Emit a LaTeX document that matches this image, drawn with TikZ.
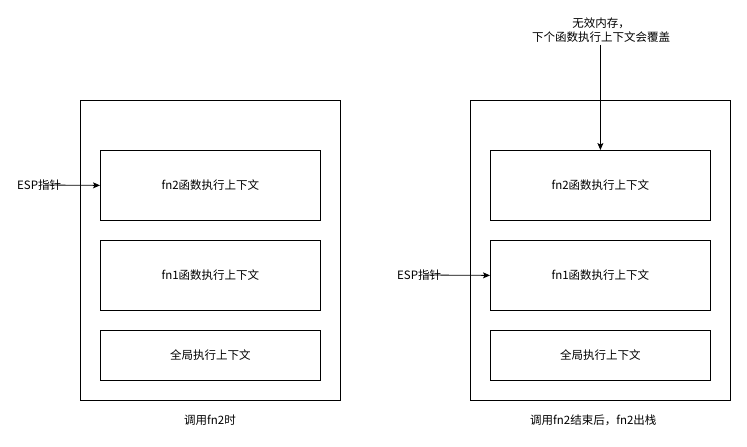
\documentclass[tikz,border=0pt]{standalone}
\usepackage{fontspec}
\setmainfont{Noto Sans CJK SC}
\usetikzlibrary{arrows.meta}
\begin{document}
\begin{tikzpicture}[x=1pt,y=-1pt,
  box/.style={draw=black,line width=0.8pt,fill=white},
  lbl/.style={font=\fontsize{11.5}{14}\selectfont,inner sep=0pt,align=center},
  arr/.style={draw=black,line width=0.8pt,-{Stealth[length=7pt,width=6pt,inset=1.5pt]}}]
\useasboundingbox[fill=white] (0,0) rectangle (747,447);
% left stack
\node[box,minimum width=260pt,minimum height=300pt,anchor=north west] (outerL) at (80,100) {};
\node[box,minimum width=220pt,minimum height=70pt,anchor=north west,lbl] (fn2L) at (100,150) {fn2函数执行上下文};
\node[box,minimum width=220pt,minimum height=70pt,anchor=north west,lbl] (fn1L) at (100,240) {fn1函数执行上下文};
\node[box,minimum width=220pt,minimum height=50pt,anchor=north west,lbl] (gL) at (100,330) {全局执行上下文};
\node[lbl,anchor=west] (espL) at (17,185) {ESP指针};
\coordinate (espLs) at (45,185);
\draw[arr] (espLs) -- (fn2L.west);
\node[lbl] (capL) at (210,420) {调用fn2时};
% right stack
\node[box,minimum width=260pt,minimum height=300pt,anchor=north west] (outerR) at (470,100) {};
\node[box,minimum width=220pt,minimum height=70pt,anchor=north west,lbl] (fn2R) at (490,150) {fn2函数执行上下文};
\node[box,minimum width=220pt,minimum height=70pt,anchor=north west,lbl] (fn1R) at (490,240) {fn1函数执行上下文};
\node[box,minimum width=220pt,minimum height=50pt,anchor=north west,lbl] (gR) at (490,330) {全局执行上下文};
\node[lbl,anchor=west] (espR) at (397,275) {ESP指针};
\coordinate (espRs) at (425,275);
\draw[arr] (espRs) -- (fn1R.west);
\node[lbl] (inv) at (601,30) {无效内存，\\下个函数执行上下文会覆盖};
\draw[arr] (inv.south -| fn2R.north) ++(0,2) -- (fn2R.north);
\node[lbl,anchor=west] (capR) at (530,420) {调用fn2结束后，fn2出栈};
\end{tikzpicture}
\end{document}
